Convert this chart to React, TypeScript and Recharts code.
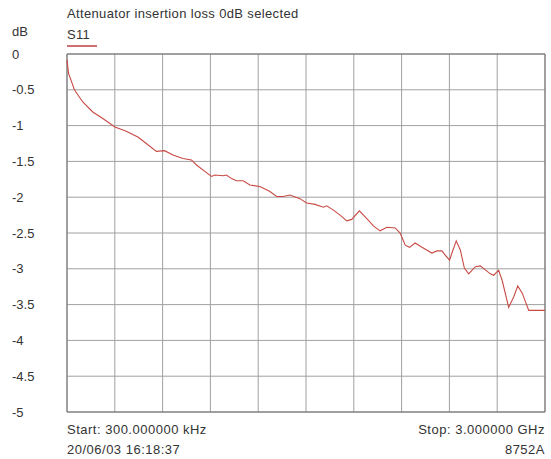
import React from "react";
import {
  LineChart, Line, XAxis, YAxis, CartesianGrid, ReferenceArea,
} from "recharts";

// sweep frequency, MHz
const freqs = [
  0.3, 10, 47, 99, 162, 225, 301, 372, 445, 498,
  561, 613, 665, 728, 781, 813, 865, 907, 928, 980,
  1001, 1033, 1064, 1106, 1148, 1211, 1274, 1316, 1357, 1399,
  1462, 1504, 1557, 1609, 1630, 1672, 1714, 1756, 1787, 1835,
  1882, 1923, 1965, 2008, 2060, 2091, 2123, 2150, 2185, 2228,
  2290, 2322, 2353, 2374, 2401, 2416, 2443, 2469, 2494, 2521,
  2563, 2594, 2657, 2678, 2709, 2731, 2772, 2804, 2829, 2857,
  2898, 3000,
];

// S11, dB
const s11 = [
  -0.08, -0.27, -0.5, -0.67, -0.81, -0.9, -1.02, -1.08, -1.16, -1.25,
  -1.36, -1.35, -1.41, -1.46, -1.48, -1.55, -1.64, -1.71, -1.69, -1.7,
  -1.69, -1.74, -1.77, -1.77, -1.83, -1.85, -1.92, -1.99, -1.99, -1.97,
  -2.02, -2.08, -2.1, -2.14, -2.12, -2.18, -2.25, -2.33, -2.31, -2.19,
  -2.3, -2.4, -2.47, -2.42, -2.43, -2.5, -2.67, -2.7, -2.64, -2.7,
  -2.78, -2.75, -2.75, -2.81, -2.88, -2.78, -2.61, -2.74, -2.99, -3.07,
  -2.97, -2.96, -3.07, -3.09, -3.02, -3.16, -3.54, -3.39, -3.24, -3.34,
  -3.58, -3.58,
];

const xTicks = [0.3, 300.27, 600.24, 900.21, 1200.18, 1500.15, 1800.12, 2100.09, 2400.06, 2700.03, 3000];
const yTicks = [0, -0.5, -1, -1.5, -2, -2.5, -3, -3.5, -4, -4.5, -5];

const data = freqs.map((f, i) => ({ f, s11: s11[i] }));

const font = "Arial, 'Liberation Sans', sans-serif";
const textColor = "#333";

const YTick = (props: any) => {
  const { y, payload } = props;
  return (
    <text x={12} y={y} textAnchor="start" dominantBaseline="central"
      fill={textColor} fontSize={13} fontFamily={font}>
      {payload.value}
    </text>
  );
};

const NoTick = () => <g />;

const label = (left: number | undefined, right: number | undefined, top: number, spacing = 0.5): React.CSSProperties => ({
  position: "absolute",
  left,
  right,
  top,
  fontFamily: font,
  fontSize: 13,
  letterSpacing: spacing,
  color: textColor,
  lineHeight: "15px",
  whiteSpace: "nowrap",
});

export default function App() {
  return (
    <div style={{ position: "absolute", left: 0, top: 0, width: 551, height: 459, background: "#fff" }}>
      <div style={label(67, undefined, 6, 0.35)}>Attenuator insertion loss 0dB selected</div>
      <div style={label(12, undefined, 24, 0)}>dB</div>
      <div style={label(67, undefined, 27, 0.3)}>S11</div>
      <div style={{ position: "absolute", left: 67, top: 45, width: 30, height: 2, background: "#d07070" }} />

      <LineChart width={551} height={459} data={data}
        margin={{ top: 54, right: 6, bottom: 47, left: 12 }}>
        <CartesianGrid stroke="#a0a0a0" strokeWidth={1} />
        <XAxis dataKey="f" type="number" domain={[0.3, 3000]} ticks={xTicks}
          tick={<NoTick />} tickLine={false} axisLine={false} height={0}
          interval={0} />
        <YAxis type="number" domain={[-5, 0]} ticks={yTicks} width={55}
          tick={<YTick />} tickLine={false} axisLine={false} interval={0} />
        <ReferenceArea x1={0.3} x2={3000} y1={-5} y2={0} fill="none"
          stroke="#707070" strokeWidth={1} fillOpacity={0} />
        <Line type="linear" dataKey="s11" stroke="#c84a45" strokeWidth={1.1}
          dot={false} isAnimationActive={false} />
      </LineChart>

      <div style={label(67, undefined, 422)}>Start: 300.000000 kHz</div>
      <div style={label(67, undefined, 442)}>20/06/03 16:18:37</div>
      <div style={label(undefined, 6, 422)}>Stop: 3.000000 GHz</div>
      <div style={label(undefined, 6, 442)}>8752A</div>
    </div>
  );
}
